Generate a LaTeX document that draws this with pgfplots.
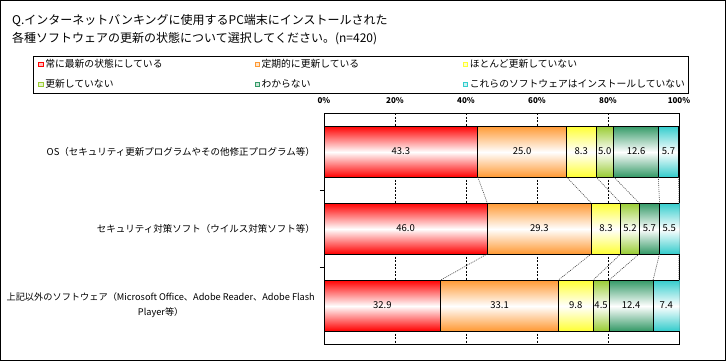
\documentclass[border=0pt]{standalone}
\usepackage{pgfplots}
\pgfplotsset{compat=1.18}
\usepackage{fontspec}
\setmainfont{Noto Sans CJK JP}
\definecolor{cRed}{RGB}{255,0,0}
\definecolor{cOrange}{RGB}{255,153,51}
\definecolor{cYellow}{RGB}{255,255,51}
\definecolor{cYG}{RGB}{153,204,51}
\definecolor{cDG}{RGB}{51,153,102}
\definecolor{cCyan}{RGB}{51,204,204}
\pgfplotsset{
  colormap={mRed}{color=(white) color=(cRed)},
  colormap={mOrange}{color=(white) color=(cOrange)},
  colormap={mYellow}{color=(white) color=(cYellow)},
  colormap={mYG}{color=(white) color=(cYG)},
  colormap={mDG}{color=(white) color=(cDG)},
  colormap={mCyan}{color=(white) color=(cCyan)},
  myleg/.style={legend image code/.code={\draw[draw=#1,fill=#1!25,line width=0.9bp](0bp,-2.2bp) rectangle (4.4bp,2.2bp);}},
  common/.style={at={(324bp,17bp)}, anchor=south west,
    width=355bp, height=231bp, scale only axis,
    xmin=0, xmax=100, ymin=-0.5, ymax=2.5, y dir=reverse},
}
% one stacked segment: colormap, start, end (cumulative %), category row
\newcommand\seg[4]{%
\addplot[patch, patch type=rectangle, shader=interp, colormap name=#1, point meta=explicit, point meta min=0, point meta max=1, forget plot]
 coordinates {(#2,#4-0.33)[1] (#3,#4-0.33)[1] (#3,#4)[0] (#2,#4)[0]
              (#2,#4)[0] (#3,#4)[0] (#3,#4+0.33)[1] (#2,#4+0.33)[1]};
\addplot[draw=black, line width=0.8bp, mark=none, forget plot] coordinates {(#2,#4-0.33) (#3,#4-0.33) (#3,#4+0.33) (#2,#4+0.33)} -- cycle;}
\begin{document}
\begin{tikzpicture}
\useasboundingbox (0,0) rectangle (726bp,361bp);
\draw[line width=1bp] (0.5bp,0.5bp) rectangle (725.5bp,360.5bp);
\node[anchor=base west, font=\fontsize{12bp}{15bp}\selectfont, inner sep=0pt] at (12bp,336bp) {Q.インターネットバンキングに使用するPC端末にインストールされた};
\node[anchor=base west, font=\fontsize{12bp}{15bp}\selectfont, inner sep=0pt] at (12bp,318bp) {各種ソフトウェアの更新の状態について選択してください。(n=420)};
\begin{axis}[common,
  axis line style={line width=0.9bp},
  xtick={0,20,40,60,80,100},
  xticklabels={0\%,20\%,40\%,60\%,80\%,100\%},
  xticklabel pos=right,
  /pgf/number format/assume math mode=true,
  xticklabel style={font=\fontsize{8bp}{9bp}\selectfont\bfseries, inner sep=0pt, yshift=9bp},
  ytick={0,1,2},
  yticklabels={OS（セキュリティ更新プログラムやその他修正プログラム等）,セキュリティ対策ソフト（ウイルス対策ソフト等）,{\fontsize{9.2bp}{15bp}\selectfont 上記以外のソフトウェア（Microsoft Office、Adobe Reader、Adobe Flash\\\fontsize{9.2bp}{15bp}\selectfont Player等）}},
  yticklabel style={font=\fontsize{9.5bp}{15bp}\selectfont, align=center, inner sep=0pt, xshift=-9bp},
  ytick pos=left,
  minor ytick={0.5,1.5},
  major tick length=0pt, minor tick length=4bp, tick align=outside,
  tick style={black, line width=0.8bp},
  xmajorgrids, grid style={black, line width=0.7bp, dash pattern=on 2bp off 1.5bp},
  legend columns=3,
  legend cell align=left,
  legend style={at={(-0.8197,1.2478)}, anchor=north west, draw=black, line width=0.9bp,
    font=\fontsize{9.8bp}{11bp}\selectfont, inner xsep=5bp, inner ysep=2.5bp,
    row sep=8bp, column sep=0pt,
    nodes={inner xsep=1.5bp, inner ysep=1bp, text height=7.5bp, text depth=2.5bp}},
]
\addlegendimage{myleg=cRed}
\addlegendentry{\makebox[208bp][l]{常に最新の状態にしている}}
\addlegendimage{myleg=cOrange}
\addlegendentry{\makebox[200bp][l]{定期的に更新している}}
\addlegendimage{myleg=cYellow}
\addlegendentry{\makebox[212bp][l]{ほとんど更新していない}}
\addlegendimage{myleg=cYG}
\addlegendentry{\makebox[208bp][l]{更新していない}}
\addlegendimage{myleg=cDG}
\addlegendentry{\makebox[200bp][l]{わからない}}
\addlegendimage{myleg=cCyan}
\addlegendentry{\makebox[212bp][l]{これらのソフトウェアはインストールしていない}}
% OS: 43.3 25.0 8.3 5.0 12.6 5.7
\seg{mRed}{0}{43.3}{0}
\seg{mOrange}{43.3}{68.3}{0}
\seg{mYellow}{68.3}{76.6}{0}
\seg{mYG}{76.6}{81.6}{0}
\seg{mDG}{81.6}{94.2}{0}
\seg{mCyan}{94.2}{99.9}{0}
% security software: 46.0 29.3 8.3 5.2 5.7 5.5
\seg{mRed}{0}{46.0}{1}
\seg{mOrange}{46.0}{75.3}{1}
\seg{mYellow}{75.3}{83.6}{1}
\seg{mYG}{83.6}{88.8}{1}
\seg{mDG}{88.8}{94.5}{1}
\seg{mCyan}{94.5}{100.0}{1}
% other software: 32.9 33.1 9.8 4.5 12.4 7.4
\seg{mRed}{0}{32.9}{2}
\seg{mOrange}{32.9}{66.0}{2}
\seg{mYellow}{66.0}{75.8}{2}
\seg{mYG}{75.8}{80.3}{2}
\seg{mDG}{80.3}{92.7}{2}
\seg{mCyan}{92.7}{100.0}{2}
\end{axis}
\begin{axis}[common, hide axis, unbounded coords=jump]
\addplot[black!75, line width=0.6bp, dash pattern=on 1bp off 1bp, mark=none] coordinates {
(43.3,0.33) (46.0,0.67) (0,nan) (46.0,1.33) (32.9,1.67) (0,nan)
(68.3,0.33) (75.3,0.67) (0,nan) (75.3,1.33) (66.0,1.67) (0,nan)
(76.6,0.33) (83.6,0.67) (0,nan) (83.6,1.33) (75.8,1.67) (0,nan)
(81.6,0.33) (88.8,0.67) (0,nan) (88.8,1.33) (80.3,1.67) (0,nan)
(94.2,0.33) (94.5,0.67) (0,nan) (94.5,1.33) (92.7,1.67) (0,nan)
(99.9,0.33) (100,0.67) (0,nan) (100,1.33) (100,1.67)
};
\addplot[draw=none, mark=none, nodes near coords, point meta=explicit symbolic,
  nodes near coords style={anchor=center, font=\fontsize{9.5bp}{11bp}\selectfont, inner sep=0pt}] coordinates {
(21.65,0)[43.3] (55.8,0)[25.0] (72.45,0)[8.3] (79.1,0)[5.0] (87.9,0)[12.6] (97.05,0)[5.7]
(23.0,1)[46.0] (60.65,1)[29.3] (79.45,1)[8.3] (86.2,1)[5.2] (91.65,1)[5.7] (97.25,1)[5.5]
(16.45,2)[32.9] (49.45,2)[33.1] (70.9,2)[9.8] (78.05,2)[4.5] (86.5,2)[12.4] (96.4,2)[7.4]
};
\end{axis}
\end{tikzpicture}
\end{document}
